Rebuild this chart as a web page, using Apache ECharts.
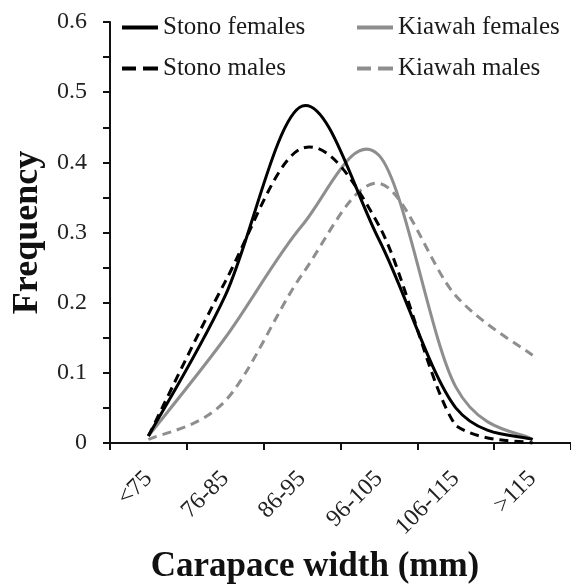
<!DOCTYPE html>
<html>
<head>
<meta charset="utf-8">
<script src="https://cdn.jsdelivr.net/npm/echarts@6/dist/echarts.min.js"></script>
<style>html,body{margin:0;padding:0;background:#fff;}#c{width:571px;height:588px;}</style>
</head>
<body>
<div id="c"></div>
<script>
var categories = ['<75', '76-85', '86-95', '96-105', '106-115', '>115'];
var stonoFemales = [0.01, 0.21, 0.48, 0.29, 0.05, 0.005];
var stonoMales = [0.01, 0.23, 0.42, 0.31, 0.025, 0.0];
var kiawahFemales = [0.01, 0.15, 0.31, 0.41, 0.08, 0.005];
var kiawahMales = [0.005, 0.06, 0.24, 0.37, 0.21, 0.125];
var yTickLabels = ['0', '0.1', '0.2', '0.3', '0.4', '0.5', '0.6'];

var FONT = '"Liberation Serif", "Times New Roman", serif';
var GRAY = '#8e8e8e';
var DASH = [9, 6];
var chart = echarts.init(document.getElementById('c'), null, {renderer: 'canvas'});

// Smooth curve (Catmull-Rom style, like a spreadsheet "smoothed line"),
// with every point placed through the chart's own axes via api.coord.
function smoothRenderer(values, color, dashed) {
  return function (params, api) {
    if (params.dataIndex !== 0) return null;
    var n = values.length;
    var pts = values.map(function (v, i) { return api.coord([i, v]); });
    var d = 'M' + pts[0][0] + ',' + pts[0][1];
    for (var i = 0; i < n - 1; i++) {
      var p0 = pts[Math.max(i - 1, 0)], p1 = pts[i], p2 = pts[i + 1], p3 = pts[Math.min(i + 2, n - 1)];
      var c1x = p1[0] + (p2[0] - p0[0]) / 6, c1y = p1[1] + (p2[1] - p0[1]) / 6;
      var c2x = p2[0] - (p3[0] - p1[0]) / 6, c2y = p2[1] - (p3[1] - p1[1]) / 6;
      // keep the curve from dipping below the lower end of a segment
      var low = Math.max(p1[1], p2[1]);
      c1y = Math.min(c1y, low);
      c2y = Math.min(c2y, low);
      d += ' C' + c1x + ',' + c1y + ' ' + c2x + ',' + c2y + ' ' + p2[0] + ',' + p2[1];
    }
    return {
      type: 'path',
      shape: {pathData: d},
      style: {stroke: color, lineWidth: 3, fill: null, lineDash: dashed ? DASH : null}
    };
  };
}

function curve(name, values, color, dashed) {
  return {
    name: name, type: 'custom',
    data: values.map(function (v, i) { return [i, v]; }),
    encode: {x: 0, y: 1},
    renderItem: smoothRenderer(values, color, dashed),
    itemStyle: {color: color},
    silent: true
  };
}

var solidIcon = 'rect';
var dashedIcon = 'path://M0,0h14v4h-14z M21,0h15v4h-15z';

var legendCommon = {
  orient: 'vertical', top: 15, padding: 0, itemGap: 16, itemWidth: 36, itemHeight: 4,
  selectedMode: false,
  textStyle: {fontFamily: FONT, fontSize: 25, color: '#1a1a1a'}
};

chart.setOption({
  animation: false,
  backgroundColor: '#fff',
  grid: {left: 110, right: 0, top: 22, bottom: 145, containLabel: false, outerBoundsMode: 'none'},
  legend: [
    Object.assign({}, legendCommon, {left: 122, data: [
      {name: 'Stono females', icon: solidIcon},
      {name: 'Stono males', icon: dashedIcon}]}),
    Object.assign({}, legendCommon, {left: 357, data: [
      {name: 'Kiawah females', icon: solidIcon},
      {name: 'Kiawah males', icon: dashedIcon}]})
  ],
  title: {
    text: 'Carapace width (mm)', left: 310, top: 544, textAlign: 'center',
    textStyle: {fontFamily: FONT, fontSize: 35, fontWeight: 'bold', color: '#111'}
  },
  xAxis: {
    type: 'category', data: categories, boundaryGap: true,
    axisLine: {lineStyle: {color: '#111', width: 2}},
    axisTick: {show: true, inside: false, length: 7, lineStyle: {color: '#111', width: 2}},
    axisLabel: {rotate: 45, margin: 32, interval: 0,
      fontFamily: FONT, fontSize: 24, color: '#222'},
    splitLine: {show: false}
  },
  yAxis: {
    type: 'value', min: 0, max: 0.6, interval: 0.05,
    name: 'Frequency', nameLocation: 'middle', nameGap: 63,
    nameTextStyle: {fontFamily: FONT, fontSize: 36, fontWeight: 'bold', color: '#111'},
    axisLine: {show: true, lineStyle: {color: '#111', width: 2}},
    axisTick: {show: true, inside: false, length: 7, lineStyle: {color: '#111', width: 2}},
    axisLabel: {margin: 23, fontFamily: FONT, fontSize: 24, color: '#222',
      formatter: function (v) {
        var k = Math.round(v * 100);
        if (k % 10 !== 0) return '';
        return yTickLabels[k / 10];
      }},
    splitLine: {show: false}
  },
  series: [
    curve('Kiawah males', kiawahMales, GRAY, true),
    curve('Kiawah females', kiawahFemales, GRAY, false),
    curve('Stono males', stonoMales, '#000', true),
    curve('Stono females', stonoFemales, '#000', false)
  ]
});
</script>
</body>
</html>
